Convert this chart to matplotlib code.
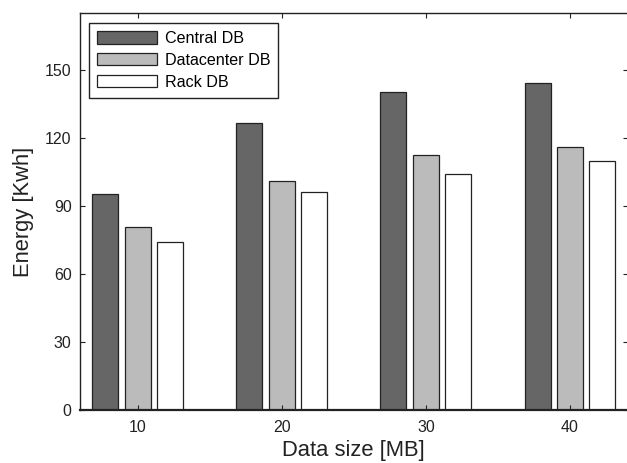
import matplotlib
matplotlib.use("Agg")
import matplotlib.pyplot as plt
import numpy as np

plt.rcParams['font.family'] = ['Liberation Sans', 'DejaVu Sans']

sizes = [10, 20, 30, 40]
tick_labels = ['10', '20', '30', '40']
series = ['Central DB', 'Datacenter DB', 'Rack DB']
central = [95.3, 126.4, 140.3, 144.3]
datacenter = [80.6, 101.0, 112.2, 115.8]
rack = [73.9, 96.0, 104.1, 109.8]
colors = ['#666666', '#bbbbbb', '#ffffff']

fig = plt.figure(figsize=(6.27, 4.63), dpi=100)
ax = fig.add_axes([80/627, (463-410)/463, (627.6-80)/627, (410-13)/463])

x = np.array(sizes, dtype=float)
offsets = [-2.25, 0.0, 2.25]
width = 1.8
for vals, off, c, name in zip([central, datacenter, rack], offsets, colors, series):
    ax.bar(x + off, vals, width=width, color=c, edgecolor='#222222', linewidth=0.9, label=name)

ax.set_xlim(6, 44)
ax.set_ylim(0, 175)
ax.set_xticks(sizes)
ax.set_xticklabels(tick_labels)
ax.set_yticks([0, 30, 60, 90, 120, 150])
ax.tick_params(direction='in', length=3.5, width=0.8, top=True, right=True, labelsize=11.5, colors='#222222', pad=6)
ax.tick_params(axis='x', pad=7)
for s in ax.spines.values():
    s.set_linewidth(1.0)
    s.set_color('#222222')
ax.spines['bottom'].set_linewidth(1.6)
ax.set_xlabel('Data size [MB]', fontsize=15.8, color='#222222', labelpad=4)
ax.set_ylabel('Energy [Kwh]', fontsize=15.8, color='#222222', labelpad=8)

leg = ax.legend(loc='upper left', bbox_to_anchor=(9/547.6, 1 - 10/397), fontsize=11.6,
                handlelength=3.75, handleheight=0.8, handletextpad=0.45,
                labelspacing=0.42, borderpad=0.5, fancybox=False, framealpha=1,
                edgecolor='#222222', borderaxespad=0)
leg.get_frame().set_linewidth(1.0)

fig.savefig('out.png', dpi=100)
